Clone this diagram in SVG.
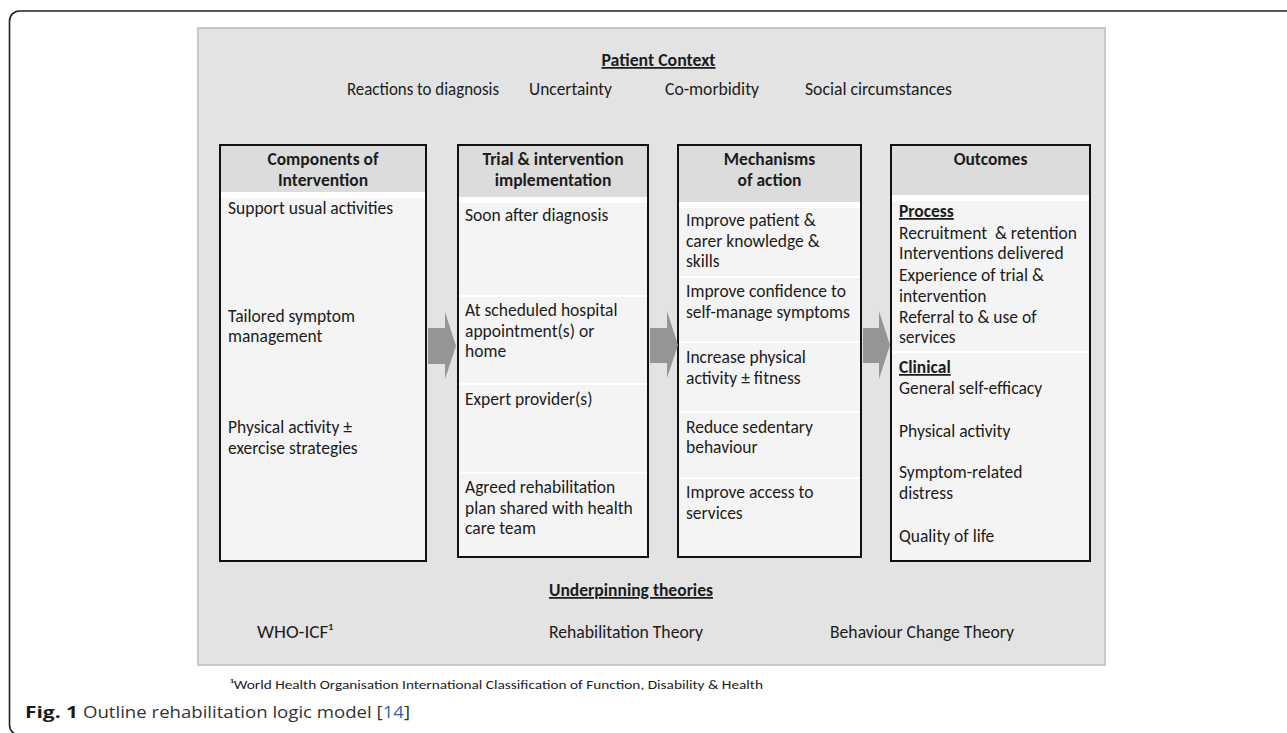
<svg xmlns="http://www.w3.org/2000/svg" width="1287" height="733" viewBox="0 0 1287 733">
<style>
.t{font-family:Carlito,Lato,"Liberation Sans",sans-serif;font-size:17.5px;fill:#1c1c1c}
.b{font-weight:bold}
.c{text-anchor:middle}
.u{text-decoration:underline}
.hd{fill:#dcdcdc}
.bd{fill:#f4f4f4}
.gap{fill:#ffffff}
.sep{stroke:#ffffff;stroke-width:2}
.frame{fill:none;stroke:#111;stroke-width:2}
.arrow{fill:#959595}
</style>
<rect x="0" y="0" width="1287" height="733" fill="#ffffff"/>
<rect x="9.5" y="11" width="1300" height="724" rx="10" fill="none" stroke="#222" stroke-width="1.6"/>
<rect id="panel" x="198" y="28" width="907" height="637" fill="#e3e3e3" stroke="#c8c8c8" stroke-width="2"/>

<g id="patient-context">
<text class="t b c u" x="658.5" y="66" textLength="114" lengthAdjust="spacingAndGlyphs">Patient Context</text>
<text class="t" x="347" y="95" textLength="152" lengthAdjust="spacingAndGlyphs">Reactions to diagnosis</text>
<text class="t" x="529" y="95" textLength="83" lengthAdjust="spacingAndGlyphs">Uncertainty</text>
<text class="t" x="665" y="95" textLength="94" lengthAdjust="spacingAndGlyphs">Co-morbidity</text>
<text class="t" x="805" y="95" textLength="147" lengthAdjust="spacingAndGlyphs">Social circumstances</text>
</g>

<g id="components">
<rect class="hd" x="220" y="145" width="206" height="47"/>
<rect class="gap" x="220" y="192" width="206" height="6"/>
<rect class="bd" x="220" y="198" width="206" height="363"/>
<rect class="frame" x="220" y="145" width="206" height="416"/>
<text class="t b c" x="323" y="165">Components of</text>
<text class="t b c" x="323" y="186">Intervention</text>
<text class="t" x="228" y="214">Support usual activities</text>
<text class="t" x="228" y="322">Tailored symptom</text>
<text class="t" x="228" y="342">management</text>
<text class="t" x="228" y="433">Physical activity ±</text>
<text class="t" x="228" y="454">exercise strategies</text>
</g>

<g id="implementation">
<rect class="hd" x="458" y="145" width="190" height="52"/>
<rect class="gap" x="458" y="197" width="190" height="6"/>
<rect class="bd" x="458" y="203" width="190" height="354"/>
<line class="sep" x1="459" y1="296" x2="647" y2="296"/>
<line class="sep" x1="459" y1="384" x2="647" y2="384"/>
<line class="sep" x1="459" y1="473" x2="647" y2="473"/>
<rect class="frame" x="458" y="145" width="190" height="412"/>
<text class="t b c" x="553" y="165">Trial &amp; intervention</text>
<text class="t b c" x="553" y="186">implementation</text>
<text class="t" x="465" y="221">Soon after diagnosis</text>
<text class="t" x="465" y="316">At scheduled hospital</text>
<text class="t" x="465" y="337">appointment(s) or</text>
<text class="t" x="465" y="357">home</text>
<text class="t" x="465" y="405">Expert provider(s)</text>
<text class="t" x="465" y="493">Agreed rehabilitation</text>
<text class="t" x="465" y="514">plan shared with health</text>
<text class="t" x="465" y="534">care team</text>
</g>

<g id="mechanisms">
<rect class="hd" x="678" y="145" width="183" height="57"/>
<rect class="gap" x="678" y="202" width="183" height="6"/>
<rect class="bd" x="678" y="208" width="183" height="349"/>
<line class="sep" x1="679" y1="277" x2="860" y2="277"/>
<line class="sep" x1="679" y1="342" x2="860" y2="342"/>
<line class="sep" x1="679" y1="412" x2="860" y2="412"/>
<line class="sep" x1="679" y1="478" x2="860" y2="478"/>
<rect class="frame" x="678" y="145" width="183" height="412"/>
<text class="t b c" x="769.5" y="165">Mechanisms</text>
<text class="t b c" x="769.5" y="186">of action</text>
<text class="t" x="686" y="226">Improve patient &amp;</text>
<text class="t" x="686" y="247">carer knowledge &amp;</text>
<text class="t" x="686" y="267">skills</text>
<text class="t" x="686" y="297">Improve confidence to</text>
<text class="t" x="686" y="318">self-manage symptoms</text>
<text class="t" x="686" y="363">Increase physical</text>
<text class="t" x="686" y="384">activity ± fitness</text>
<text class="t" x="686" y="433">Reduce sedentary</text>
<text class="t" x="686" y="453">behaviour</text>
<text class="t" x="686" y="498">Improve access to</text>
<text class="t" x="686" y="519">services</text>
</g>

<g id="outcomes">
<rect class="hd" x="891" y="145" width="199" height="50"/>
<rect class="gap" x="891" y="195" width="199" height="6"/>
<rect class="bd" x="891" y="201" width="199" height="360"/>
<line class="sep" x1="892" y1="352" x2="1089" y2="352"/>
<rect class="frame" x="891" y="145" width="199" height="416"/>
<text class="t b c" x="990.5" y="165">Outcomes</text>
<text class="t b u" x="899" y="217">Process</text>
<text class="t" x="899" y="239" xml:space="preserve">Recruitment  &amp; retention</text>
<text class="t" x="899" y="259">Interventions delivered</text>
<text class="t" x="899" y="281">Experience of trial &amp;</text>
<text class="t" x="899" y="302">intervention</text>
<text class="t" x="899" y="323">Referral to &amp; use of</text>
<text class="t" x="899" y="343">services</text>
<text class="t b u" x="899" y="373">Clinical</text>
<text class="t" x="899" y="394">General self-efficacy</text>
<text class="t" x="899" y="437">Physical activity</text>
<text class="t" x="899" y="478">Symptom-related</text>
<text class="t" x="899" y="499">distress</text>
<text class="t" x="899" y="542">Quality of life</text>
</g>

<g id="connectors">
<polygon class="arrow" points="428,328 445,328 445,312 456,346 445,379 445,364 428,364"/>
<polygon class="arrow" points="650,328 667,328 667,311 678,345 667,378 667,363 650,363"/>
<polygon class="arrow" points="863,328 879,328 879,311 890,345 879,379 879,363 863,363"/>
</g>

<g id="theories">
<text class="t b c u" x="631" y="596" textLength="164" lengthAdjust="spacingAndGlyphs">Underpinning theories</text>
<text class="t" x="257" y="638" textLength="76" lengthAdjust="spacingAndGlyphs">WHO-ICF¹</text>
<text class="t" x="549" y="638" textLength="154" lengthAdjust="spacingAndGlyphs">Rehabilitation Theory</text>
<text class="t" x="830" y="638" textLength="184" lengthAdjust="spacingAndGlyphs">Behaviour Change Theory</text>
</g>

<text class="t" x="230" y="689" style="font-size:13px" textLength="533" lengthAdjust="spacingAndGlyphs">¹World Health Organisation International Classification of Function, Disability &amp; Health</text>
<text x="25" y="718" style="font-family:'Open Sans','Noto Sans',sans-serif;font-size:15.5px;font-weight:bold;fill:#1c1c1c" textLength="53" lengthAdjust="spacingAndGlyphs">Fig. 1</text>
<text x="83" y="718" style="font-family:'Open Sans','Noto Sans',sans-serif;font-size:15.5px;fill:#333" textLength="327" lengthAdjust="spacingAndGlyphs">Outline rehabilitation logic model [<tspan fill="#3b5fc0">14</tspan>]</text>
</svg>
